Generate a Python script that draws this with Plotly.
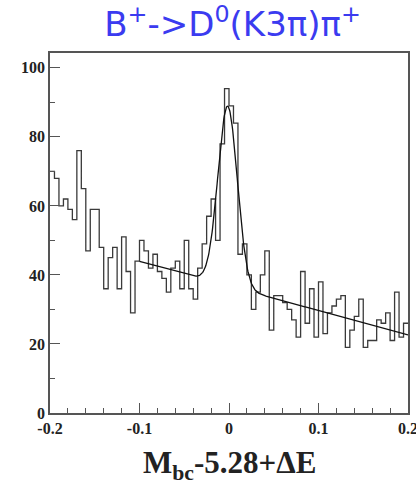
import numpy as np
import plotly.graph_objects as go

# Histogram of M_bc - 5.28 + dE, 80 bins of width 0.005 from -0.2 to 0.2
bin_low = -0.2
bin_width = 0.005
counts = [
    70, 68, 60, 62, 59, 56, 76, 65, 47, 59,
    59, 48, 36, 45, 48, 36, 51, 41, 29, 44,
    50, 47, 42, 46, 41, 39, 35, 42, 44, 36,
    50, 36, 33, 42, 49, 57, 62, 50, 78, 94,
    89, 84, 46, 49, 40, 30, 35, 40, 47, 24,
    34, 34, 32, 30, 27, 22, 41, 26, 36, 22,
    38, 23, 29, 31, 33, 34, 19, 24, 28, 33,
    19, 21, 21, 27, 26, 29, 21, 35, 22, 26,
]

# Fit: Gaussian signal on a linear background, drawn over [-0.1, 0.2]
fit_range = (-0.1, 0.2)
bg_const = 36.8
bg_slope = -71.0
sig_amp = 52.0
sig_mean = -0.0015
sig_sigma = 0.0108

y_ticks = [0, 20, 40, 60, 80, 100]
x_ticks = [-0.2, -0.1, 0.0, 0.1, 0.2]
x_tick_text = ["-0.2", "-0.1", "0", "0.1", "0.2"]

edges = bin_low + bin_width * np.arange(len(counts) + 1)
step_y = counts + [counts[-1]]

fx = np.linspace(fit_range[0], fit_range[1], 600)
fy = bg_const + bg_slope * fx + sig_amp * np.exp(-0.5 * ((fx - sig_mean) / sig_sigma) ** 2)

fig = go.Figure()
fig.add_trace(go.Scatter(
    x=edges, y=step_y, mode="lines", line_shape="hv",
    line=dict(color="#3a3a3a", width=1.3), hoverinfo="skip",
))
fig.add_trace(go.Scatter(
    x=fx, y=fy, mode="lines",
    line=dict(color="#111111", width=1.3), hoverinfo="skip",
))

tick_font = dict(family="Liberation Serif", size=16, color="#222222", weight="bold")

fig.update_layout(
    width=416, height=485,
    margin=dict(l=50, r=8, t=53, b=72),
    paper_bgcolor="white", plot_bgcolor="white",
    showlegend=False,
    title=dict(
        text="B<sup>+</sup>->D<sup>0</sup>(K3π)π<sup>+</sup>",
        x=0.51, xanchor="center", xref="paper",
        y=0.95, yanchor="middle", yref="container",
        font=dict(family="DejaVu Sans", size=34, color="#3b3bf0"),
    ),
    xaxis=dict(
        range=[-0.2, 0.2], tickvals=x_ticks, ticktext=x_tick_text,
        ticks="inside", ticklen=10, tickwidth=1.3, tickcolor="#555555",
        minor=dict(dtick=0.02, ticks="inside", ticklen=5, tickwidth=1.2, tickcolor="#555555"),
        showline=True, linecolor="#555555", linewidth=1.6, mirror=True,
        showgrid=False, zeroline=False, tickfont=tick_font, automargin=False,
        ticklabeloverflow="allow",
    ),
    yaxis=dict(
        range=[0, 104.3], tickvals=y_ticks,
        ticks="inside", ticklen=10, tickwidth=1.3, tickcolor="#555555",
        minor=dict(dtick=10, ticks="inside", ticklen=5, tickwidth=1.2, tickcolor="#555555"),
        showline=True, linecolor="#555555", linewidth=1.6, mirror=True,
        showgrid=False, zeroline=False, tickfont=tick_font, automargin=False,
        ticklabeloverflow="allow",
    ),
    annotations=[dict(
        text="M<sub>bc</sub>-5.28+ΔE",
        x=0.5, xref="paper", y=-0.145, yref="paper",
        xanchor="center", yanchor="middle", showarrow=False,
        font=dict(family="Liberation Serif", size=31, color="#222222", weight="bold"),
    )],
)

fig.write_html("out.html")
